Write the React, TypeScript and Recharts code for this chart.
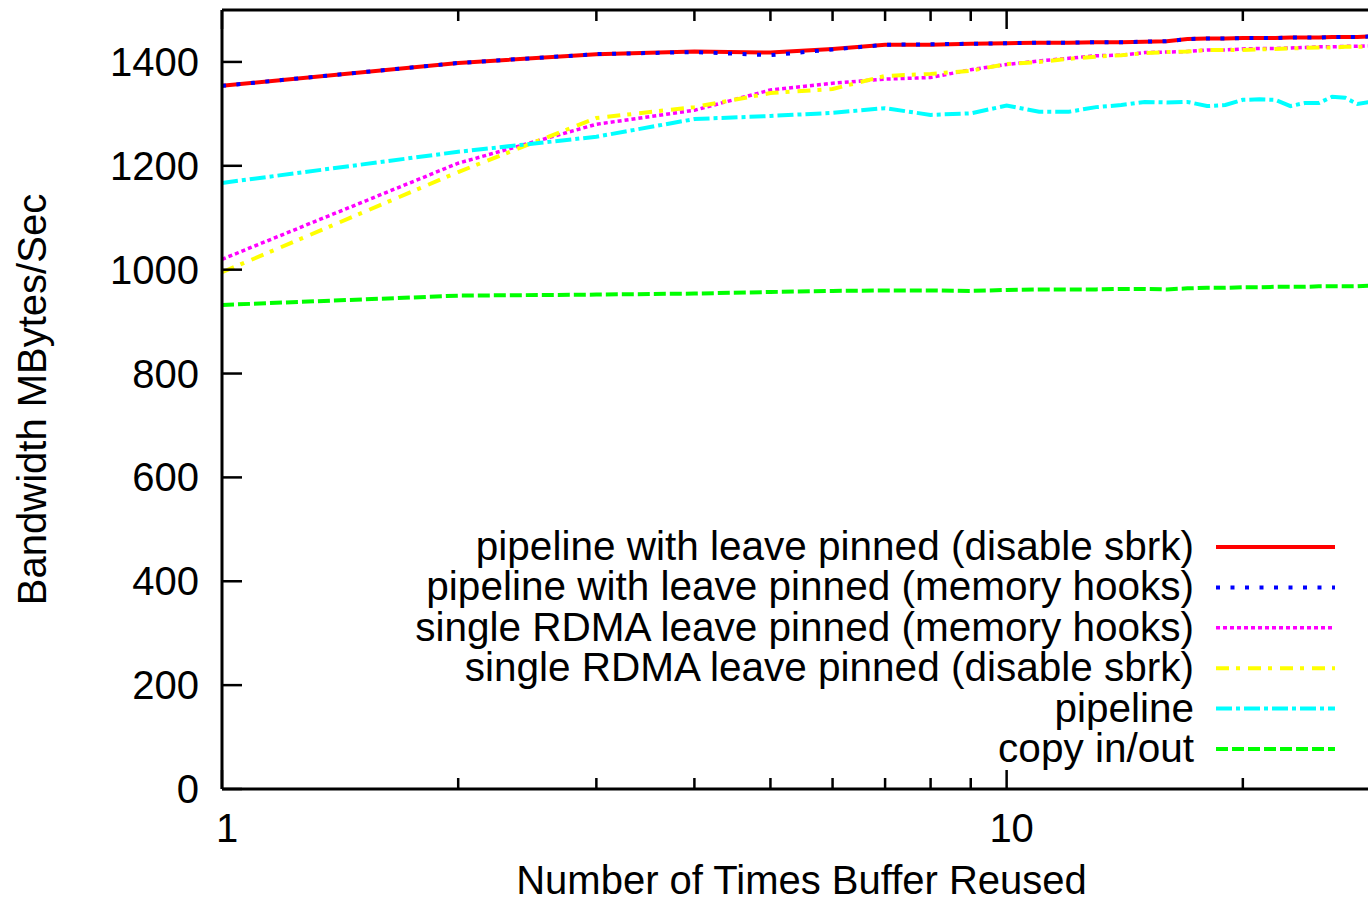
import { LineChart, Line, XAxis, YAxis, Legend, Label } from "recharts";

// x: number of times buffer reused (log scale)
const reuse = [1, 2, 3, 4, 5, 6, 7, 8, 9, 10, 11, 12, 13, 14, 15, 16, 17, 18, 19, 20, 21, 22, 23, 24, 25, 26, 27, 28, 29, 30];

// bandwidth in MBytes/Sec
const pinnedSbrk = [1354, 1398, 1415, 1420, 1418, 1425, 1433, 1433, 1435, 1436, 1437, 1437, 1438, 1438, 1439, 1440, 1444, 1445, 1445, 1446, 1446, 1446, 1447, 1447, 1447, 1448, 1448, 1448, 1449, 1449];
const pinnedHooks = [1354, 1398, 1415, 1419, 1413, 1424, 1433, 1434, 1435, 1436, 1437, 1437, 1438, 1438, 1439, 1440, 1444, 1445, 1445, 1446, 1446, 1446, 1447, 1447, 1447, 1448, 1448, 1448, 1449, 1449];
const rdmaHooks = [1020, 1205, 1280, 1307, 1346, 1359, 1367, 1370, 1385, 1395, 1402, 1407, 1412, 1413, 1418, 1419, 1420, 1423, 1423, 1425, 1426, 1426, 1427, 1428, 1429, 1429, 1430, 1430, 1431, 1431];
const rdmaSbrk = [995, 1188, 1292, 1313, 1340, 1348, 1373, 1377, 1383, 1396, 1400, 1406, 1410, 1413, 1417, 1419, 1420, 1423, 1423, 1423, 1424, 1425, 1426, 1427, 1428, 1428, 1429, 1429, 1430, 1430];
const pipeline = [1167, 1227, 1256, 1290, 1296, 1302, 1311, 1298, 1301, 1316, 1304, 1304, 1313, 1317, 1323, 1322, 1323, 1315, 1317, 1327, 1328, 1327, 1315, 1321, 1321, 1333, 1331, 1319, 1323, 1325];
const copyInOut = [932, 950, 952, 954, 957, 959, 960, 960, 959, 961, 962, 962, 962, 963, 963, 962, 964, 965, 965, 966, 966, 967, 967, 967, 968, 968, 968, 968, 969, 969];

const xTicks = [1, 2, 3, 4, 5, 6, 7, 8, 9, 10, 20];
const xMajor = [1, 10];
const yTicks = [0, 200, 400, 600, 800, 1000, 1200, 1400];

const series = [
  { key: "pinnedSbrk", name: "pipeline with leave pinned (disable sbrk)", color: "#ff0000", dash: undefined, width: 4 },
  { key: "pinnedHooks", name: "pipeline with leave pinned (memory hooks)", color: "#0000ff", dash: "4 10.5", width: 4 },
  { key: "rdmaHooks", name: "single RDMA leave pinned (memory hooks)", color: "#ff00ff", dash: "4 3", width: 3.5 },
  { key: "rdmaSbrk", name: "single RDMA leave pinned (disable sbrk)", color: "#ffff00", dash: "13 7 4 8", width: 4 },
  { key: "pipeline", name: "pipeline", color: "#00ffff", dash: "16 4 4 4", width: 4 },
  { key: "copyInOut", name: "copy in/out", color: "#00ff00", dash: "12 4", width: 4 },
];

const data = reuse.map((x, i) => ({
  x,
  pinnedSbrk: pinnedSbrk[i],
  pinnedHooks: pinnedHooks[i],
  rdmaHooks: rdmaHooks[i],
  rdmaSbrk: rdmaSbrk[i],
  pipeline: pipeline[i],
  copyInOut: copyInOut[i],
}));

const FONT = "'Liberation Sans', Arial, Helvetica, sans-serif";
const FS = 40;

function BottomTick(props: any) {
  const { x, y, payload } = props;
  const major = xMajor.includes(payload.value);
  return (
    <g>
      <line x1={x} y1={y} x2={x} y2={y - (major ? 19 : 11)} stroke="#000" strokeWidth={2.5} />
      {major && (
        <text x={x + 5} y={y + 53} textAnchor="middle" fontFamily={FONT} fontSize={FS} fill="#000">
          {payload.value}
        </text>
      )}
    </g>
  );
}

function TopTick(props: any) {
  const { x, y, payload } = props;
  const major = xMajor.includes(payload.value);
  return <line x1={x} y1={y} x2={x} y2={y + (major ? 19 : 11)} stroke="#000" strokeWidth={2.5} />;
}

function LeftTick(props: any) {
  const { x, y, payload } = props;
  return (
    <g>
      <line x1={x} y1={y} x2={x + 20} y2={y} stroke="#000" strokeWidth={2.5} />
      <text x={x - 23} y={y + 14} textAnchor="end" fontFamily={FONT} fontSize={FS} fill="#000">
        {payload.value}
      </text>
    </g>
  );
}

function RightTick(props: any) {
  const { x, y } = props;
  return <line x1={x} y1={y} x2={x - 20} y2={y} stroke="#000" strokeWidth={2.5} />;
}

function YTitle(props: any) {
  const { y, height } = props.viewBox;
  const cy = y + height / 2;
  return (
    <text transform={`translate(46, ${cy}) rotate(-90)`} textAnchor="middle" fontFamily={FONT} fontSize={FS} fill="#000">
      Bandwidth MBytes/Sec
    </text>
  );
}

function XTitle(props: any) {
  const { x, width } = props.viewBox;
  return (
    <text x={x + width / 2} y={894} textAnchor="middle" fontFamily={FONT} fontSize={FS} fill="#000">
      Number of Times Buffer Reused
    </text>
  );
}

function KeyBox() {
  return (
    <svg width={1400} height={250}>
      {series.map((s, i) => {
        const ly = 27 + i * 40.4;
        return (
          <g key={s.key}>
            <text x={1194} y={ly + 13} textAnchor="end" fontFamily={FONT} fontSize={40.5} fill="#000">
              {s.name}
            </text>
            <line x1={1216} y1={ly} x2={1335} y2={ly} stroke={s.color} strokeWidth={s.width} strokeDasharray={s.dash} />
          </g>
        );
      })}
    </svg>
  );
}

export default function App() {
  return (
    <div style={{ position: "absolute", left: 0, top: 0, width: 1368, height: 904, overflow: "hidden", background: "#fff" }}>
      <LineChart width={1400} height={904} data={data} margin={{ top: 9, right: 18, bottom: 114, left: 221 }}>
        <XAxis
          dataKey="x"
          type="number"
          scale="log"
          domain={[1, 30]}
          ticks={xTicks}
          interval={0}
          height={1}
          tickSize={0}
          tickMargin={0}
          tickLine={false}
          axisLine={{ stroke: "#000", strokeWidth: 3 }}
          tick={(p: any) => <BottomTick {...p} />}
        >
          <Label content={XTitle} />
        </XAxis>
        <XAxis
          xAxisId="top"
          orientation="top"
          dataKey="x"
          type="number"
          scale="log"
          domain={[1, 30]}
          ticks={xTicks}
          interval={0}
          height={1}
          tickSize={0}
          tickMargin={0}
          tickLine={false}
          axisLine={{ stroke: "#000", strokeWidth: 3 }}
          tick={(p: any) => <TopTick {...p} />}
        />
        <YAxis
          type="number"
          domain={[0, 1500]}
          ticks={yTicks}
          interval={0}
          width={1}
          tickSize={0}
          tickMargin={0}
          tickLine={false}
          axisLine={{ stroke: "#000", strokeWidth: 3 }}
          tick={(p: any) => <LeftTick {...p} />}
        >
          <Label content={YTitle} />
        </YAxis>
        <YAxis
          yAxisId="right"
          orientation="right"
          type="number"
          domain={[0, 1500]}
          ticks={yTicks}
          interval={0}
          width={1}
          tickSize={0}
          tickMargin={0}
          tickLine={false}
          axisLine={{ stroke: "#000", strokeWidth: 3 }}
          tick={(p: any) => <RightTick {...p} />}
        />
        <Legend
          layout="horizontal"
          verticalAlign="middle"
          align="center"
          wrapperStyle={{ left: 0, top: 520, width: 1400, height: 250 }}
          content={KeyBox}
        />
        {series.map((s) => (
          <Line
            key={s.key}
            type="linear"
            dataKey={s.key}
            name={s.name}
            stroke={s.color}
            strokeWidth={s.width}
            strokeDasharray={s.dash}
            dot={false}
            activeDot={false}
            isAnimationActive={false}
          />
        ))}
      </LineChart>
    </div>
  );
}
